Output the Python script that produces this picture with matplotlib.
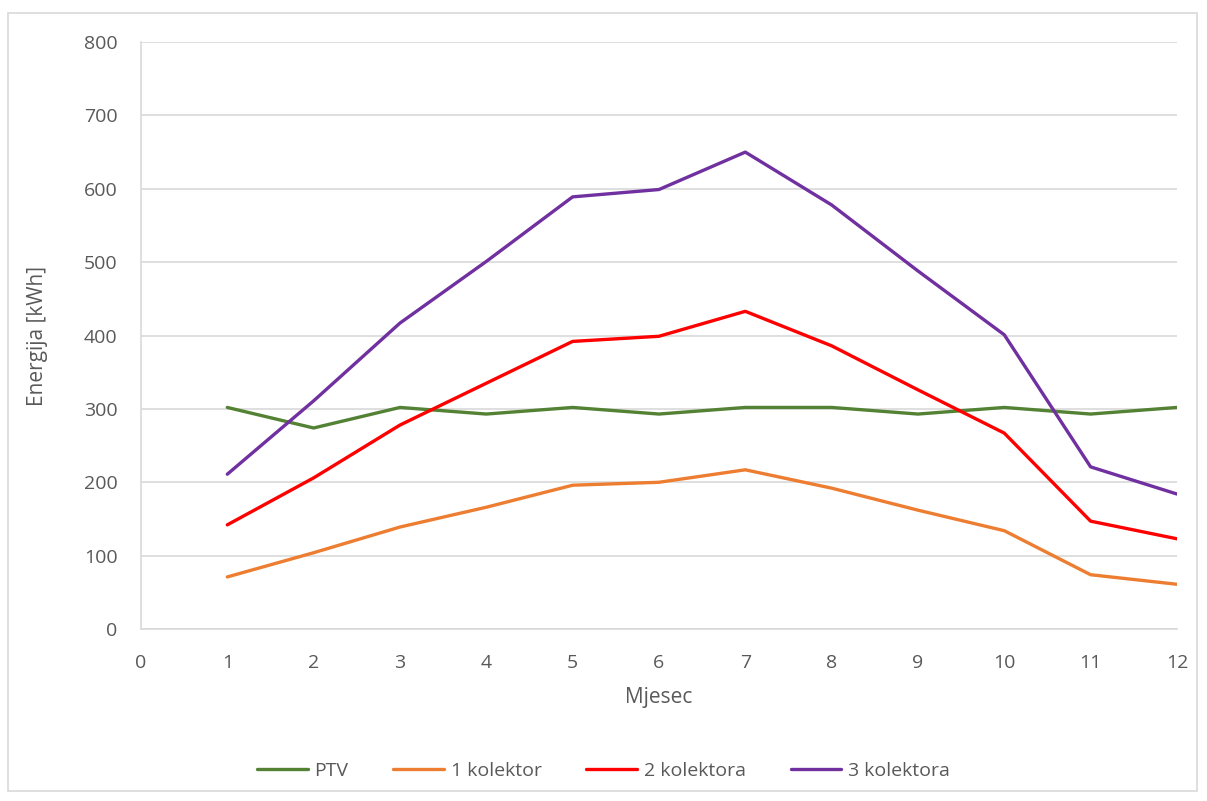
import matplotlib.pyplot as plt
from matplotlib.patches import Rectangle

# monthly values
months = [1, 2, 3, 4, 5, 6, 7, 8, 9, 10, 11, 12]
ptv = [302, 274, 302, 293, 302, 293, 302, 302, 293, 302, 293, 302]
kol1 = [71, 104, 139, 166, 196, 200, 217, 192, 162, 134, 74, 61]
kol2 = [142, 206, 278, 335, 392, 399, 433, 386, 326, 267, 147, 123]
kol3 = [211, 311, 417, 501, 589, 599, 650, 578, 488, 401, 221, 184]

labels = ['PTV', '1 kolektor', '2 kolektora', '3 kolektora']
colors = ['#548235', '#ED7D31', '#FF0000', '#7030A0']

plt.rcParams['font.family'] = ['Open Sans', 'DejaVu Sans']
text_col = '#595959'
grid_col = '#D9D9D9'

fig = plt.figure(figsize=(12.07, 8.01), dpi=100)
ax = fig.add_axes([0.1168, 0.2147, 0.8583, 0.7328])

for vals, lab, col in zip([ptv, kol1, kol2, kol3], labels, colors):
    ax.plot(months, vals, color=col, linewidth=2.4, label=lab, solid_capstyle='round')

ax.set_xlim(0, 12)
ax.set_ylim(0, 800)
ax.set_xticks(range(0, 13))
ax.set_yticks(range(0, 801, 100))
ax.grid(axis='y', color=grid_col, linewidth=1.2)
ax.set_axisbelow(True)
for s in ['top', 'right']:
    ax.spines[s].set_visible(False)
for s in ['left', 'bottom']:
    ax.spines[s].set_color(grid_col)
    ax.spines[s].set_linewidth(1.2)
ax.tick_params(length=0, labelsize=14, labelcolor=text_col)
ax.tick_params(axis='x', pad=18)
ax.tick_params(axis='y', pad=17)
ax.set_xlabel('Mjesec', fontsize=15, color=text_col, labelpad=11)
ax.set_ylabel('Energija [kWh]', fontsize=15, color=text_col, labelpad=26)

fig.legend(loc='center', bbox_to_anchor=(0.5, 0.038), ncol=4, frameon=False,
           fontsize=14, labelcolor=text_col, handlelength=2.6, columnspacing=2.3,
           handletextpad=0.35)

fig.patches.append(Rectangle((0.007, 0.012), 0.985, 0.972, transform=fig.transFigure,
                             fill=False, edgecolor=grid_col, linewidth=1.2))

fig.savefig('out.png', dpi=100, facecolor='white')
